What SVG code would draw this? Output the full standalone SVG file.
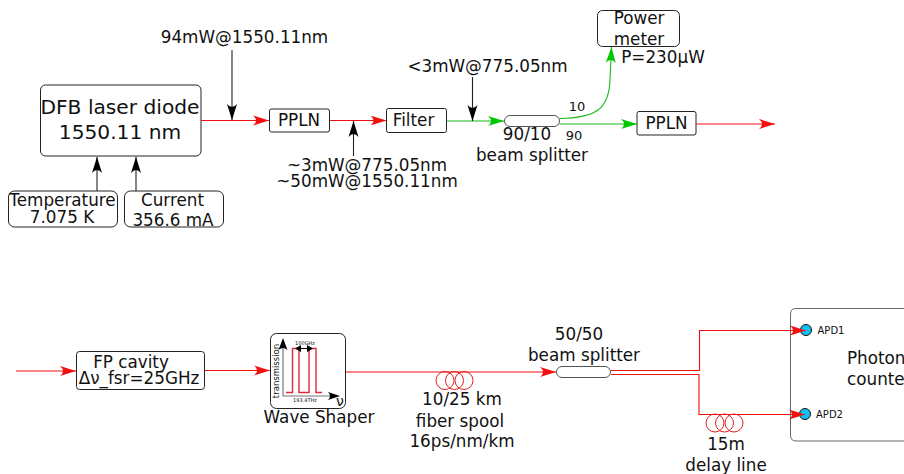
<svg xmlns="http://www.w3.org/2000/svg" width="904" height="474" viewBox="0 0 904 474">
<style>
text{font-family:"DejaVu Sans",sans-serif;fill:#111;text-anchor:middle}
.t17{font-size:16.8px}.t19{font-size:20.2px}.t13{font-size:13px}.t8{font-size:10px}
.box{fill:#fff;stroke:#222;stroke-width:1}
.r{fill:none;stroke:#f01010;stroke-width:1.1}
.g{fill:none;stroke:#18b818;stroke-width:1.1}
.k{fill:none;stroke:#222;stroke-width:1.1}
.ra{marker-end:url(#mr)}.ga{marker-end:url(#mg)}.ka{marker-end:url(#mk)}
.coil{fill:none;stroke:#e02020;stroke-width:1}
</style>
<defs>
<marker id="mr" markerUnits="userSpaceOnUse" markerWidth="18" markerHeight="12" refX="16" refY="6" orient="auto"><path d="M0 1L16 6L0 11Q6 6 0 1Z" fill="#f01010"/></marker>
<marker id="mg" markerUnits="userSpaceOnUse" markerWidth="18" markerHeight="12" refX="16" refY="6" orient="auto"><path d="M0 1L16 6L0 11Q6 6 0 1Z" fill="#00c800"/></marker>
<marker id="mk" markerUnits="userSpaceOnUse" markerWidth="18" markerHeight="12" refX="16" refY="6" orient="auto"><path d="M0 1L16 6L0 11Q6 6 0 1Z" fill="#000"/></marker>
</defs>
<g id="coil-spool"><circle class="coil" cx="445" cy="380.500" r="9"/><circle class="coil" cx="454.500" cy="380.500" r="9"/><circle class="coil" cx="464" cy="380.500" r="9"/></g>
<g id="coil-delay"><circle class="coil" cx="715" cy="423" r="9"/><circle class="coil" cx="724.500" cy="423" r="9"/><circle class="coil" cx="734" cy="423" r="9"/></g>
<g id="dfb"><rect class="box" x="40.500" y="85" width="160.500" height="71" rx="5"/><text class="t19" x="120" y="113.500">DFB laser diode</text><text class="t19" x="120" y="139">1550.11 nm</text></g>
<g id="temperature"><rect class="box" x="8.500" y="191" width="109" height="36" rx="6"/><text class="t17" x="62.500" y="205.500">Temperature</text><text class="t17" x="62" y="223">7.075 K</text></g>
<g id="current"><rect class="box" x="124.500" y="191" width="99" height="36" rx="6"/><text class="t17" x="172.500" y="205.500">Current</text><text class="t17" x="173" y="225.500">356.6 mA</text></g>
<g id="pp1"><rect class="box" x="269.500" y="109" width="60" height="23" rx="2"/><text class="t17" x="299" y="126">PPLN</text></g>
<g id="filter"><rect class="box" x="386.500" y="108.500" width="60" height="24" rx="2"/><text class="t17" x="413.500" y="125.500">Filter</text></g>
<g id="bs90"><rect x="504.500" y="115.500" width="55" height="11" rx="5.500" fill="#fff" stroke="#555"/></g>
<g id="pp2"><rect class="box" x="637" y="111.500" width="59" height="23.500" rx="2"/><text class="t17" x="666.500" y="129">PPLN</text></g>
<g id="power"><rect class="box" x="597.500" y="10.500" width="82" height="36" rx="5"/><text class="t17" x="639" y="24">Power</text><text class="t17" x="639" y="45">meter</text></g>
<g id="fp"><rect class="box" x="76.500" y="351.500" width="128" height="38" rx="3"/><text class="t17" x="131" y="368">FP cavity</text><text class="t17" x="139" y="384">Δν_fsr=25GHz</text></g>
<g id="ws"><rect class="box" x="270.500" y="333.500" width="75" height="75" rx="6"/>
<path d="M283 396V342M283 396H336" fill="none" stroke="#777" stroke-width="1.200"/>
<path d="M278.500 350L283 338L287.500 350Q283 346 278.500 350ZM328 392L340 396L328 400Q332 396 328 392Z" fill="#000"/>
<path d="M286 392.500H292.500V348.500H299V392.500H309V348.500H316V392.500H322" fill="none" stroke="#e02838" stroke-width="1.400"/>
<path d="M296 348.500H312" stroke="#000" stroke-width="1"/>
<path d="M301 345L295 348.500L301 352ZM307 345L313 348.500L307 352Z"/>
<text x="278.500" y="371" font-size="8.500px" transform="rotate(-90 278.500 371)">transmission</text>
<text x="305" y="344.500" font-size="5px">100GHz</text><text x="305" y="402" font-size="5px">193.4THz</text><text x="340" y="406" font-size="14px">ν</text></g>
<g id="bs50"><rect x="556.500" y="366.500" width="54" height="11" rx="5.500" fill="#fff" stroke="#555"/></g>
<g id="counter"><path d="M904 308.500H796Q790.500 308.500 790.500 314V435Q790.500 441 796 441H904" fill="#fff" stroke="#666"/><circle cx="806" cy="330" r="5.500" fill="#10c0f0" stroke="#111"/><circle cx="805" cy="414" r="5.500" fill="#10c0f0" stroke="#111"/><text class="t8" x="831" y="333.500">APD1</text><text class="t8" x="829.500" y="417.500">APD2</text><text class="t17" x="847" y="364" style="text-anchor:start">Photon</text><text class="t17" x="847" y="384.500" style="text-anchor:start">counter</text></g>
<g id="labels">
<text class="t17" x="244.500" y="43">94mW@1550.11nm</text>
<text class="t17" x="487.500" y="72">&lt;3mW@775.05nm</text>
<text class="t17" x="367" y="171">~3mW@775.05nm</text>
<text class="t17" x="367" y="187">~50mW@1550.11nm</text>
<text class="t17" x="663" y="63">P=230µW</text>
<text class="t13" x="577" y="111">10</text>
<text class="t13" x="574" y="140">90</text>
<text class="t17" x="527" y="140">90/10</text>
<text class="t17" x="532" y="161">beam splitter</text>
<text class="t17" x="579" y="340">50/50</text>
<text class="t17" x="584" y="361">beam splitter</text>
<text class="t17" x="319" y="423">Wave Shaper</text>
<text class="t17" x="462" y="405">10/25 km</text>
<text class="t17" x="460" y="427">fiber spool</text>
<text class="t17" x="462" y="447">16ps/nm/km</text>
<text class="t17" x="726" y="450">15m</text>
<text class="t17" x="726" y="471">delay line</text>
</g>
<g id="connectors">
<path class="r ra" d="M201 120.500H269"/>
<path class="r ra" d="M330 120.500H386.500"/>
<path class="g ga" d="M446.500 121H504"/>
<path class="g ga" d="M559.500 118.500C595 118 609 110 610 80L611.500 47"/>
<path class="g ga" d="M559.500 124H637"/>
<path class="r ra" d="M696 124H775"/>
<path class="k ka" d="M232 50V120"/>
<path class="k ka" d="M472.500 77V121"/>
<path class="k ka" d="M353.500 156V121"/>
<path class="k ka" d="M97 191V157"/>
<path class="k ka" d="M136 191V157"/>
<path class="r ra" d="M16 371H76"/>
<path class="r ra" d="M205 370.500H270"/>
<path class="r ra" d="M346 372H556"/>
<path class="r ra" d="M611 370.500H699.500V330.500H806"/>
<path class="r ra" d="M611 374.500H699V414.500H805"/>
</g>
</svg>
